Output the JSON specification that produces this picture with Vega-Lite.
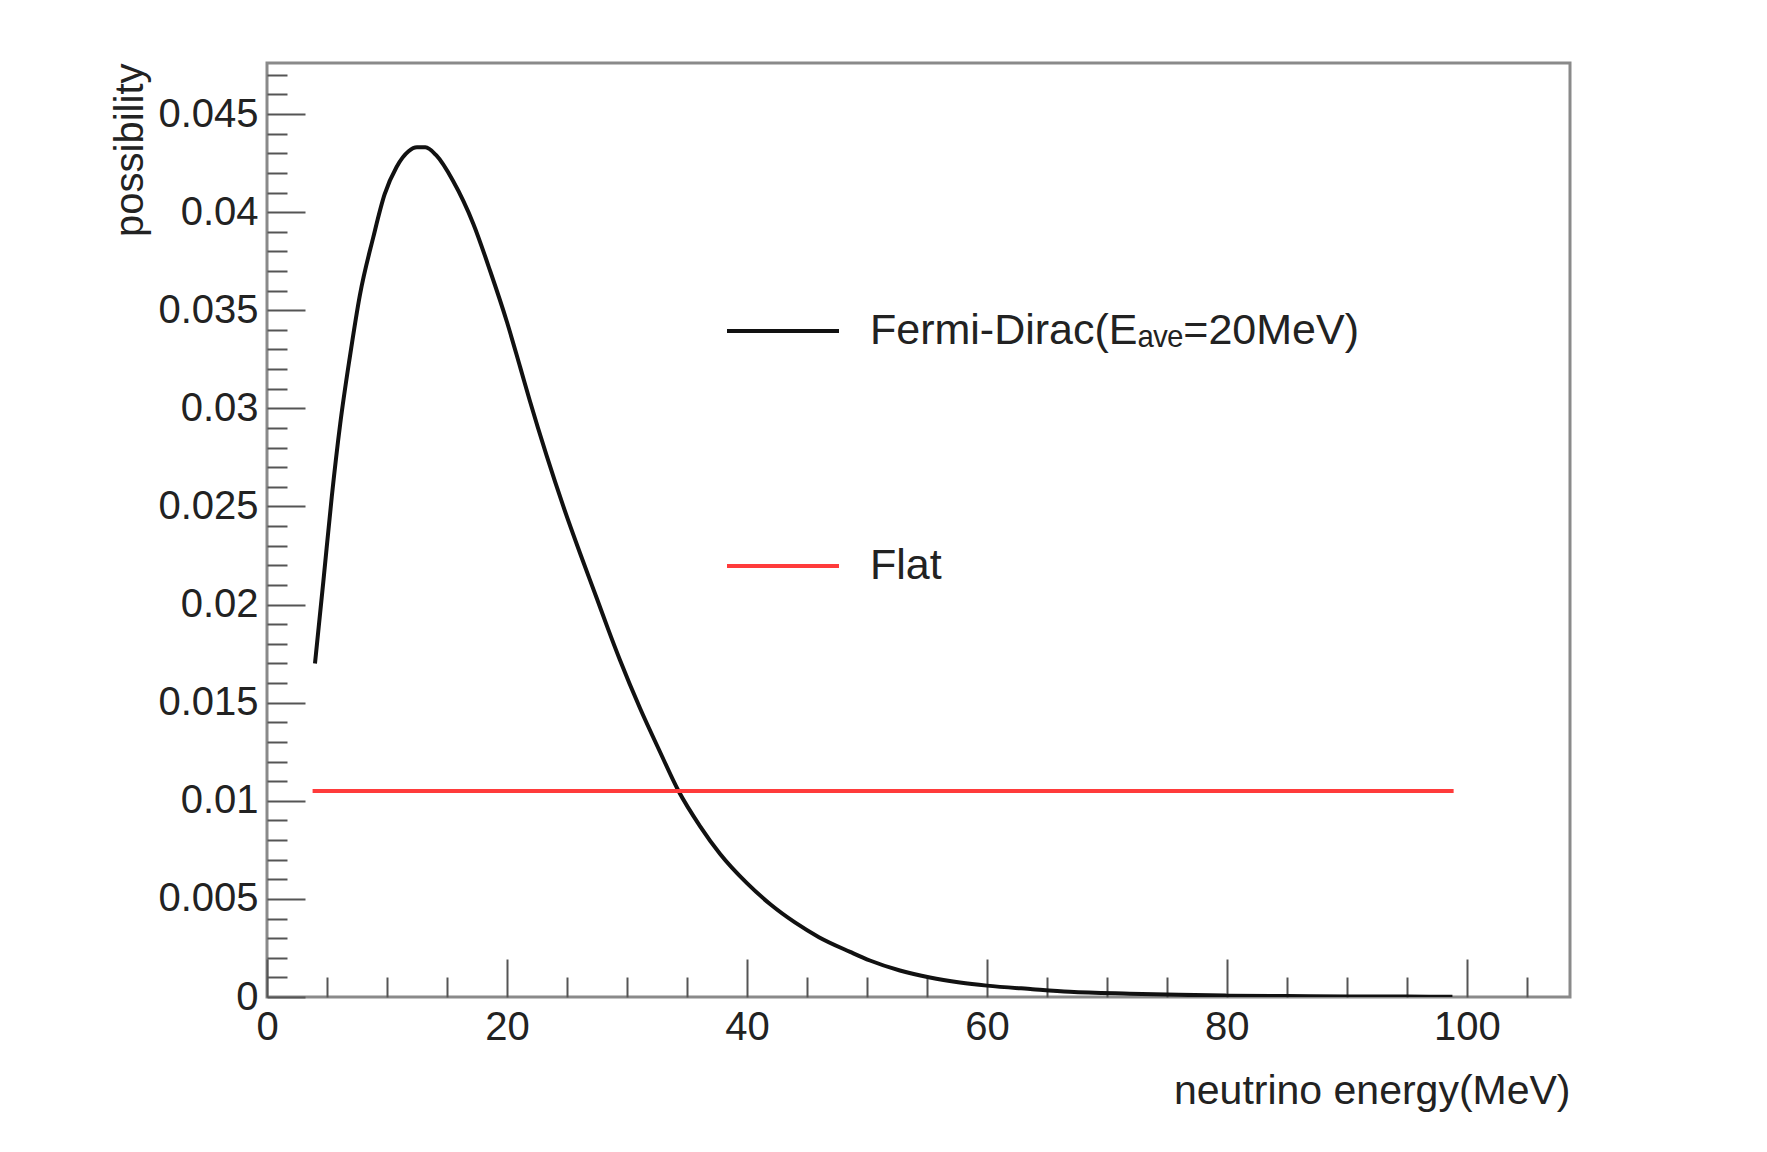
{
  "$schema": "https://vega.github.io/schema/vega-lite/v6.json",
  "width": 1303,
  "height": 934,
  "autosize": {"type": "none"},
  "padding": {"left": 267, "top": 63, "right": 197, "bottom": 155},
  "background": "white",
  "config": {
    "font": "Liberation Sans",
    "view": {"stroke": "#8a8a8a", "strokeWidth": 3},
    "axis": {"grid": false}
  },
  "data": {
    "values": [
      {"series": "Fermi-Dirac(Eₐᵥₑ=20MeV)", "E": 4.0, "p": 0.0170},
      {"series": "Fermi-Dirac(Eₐᵥₑ=20MeV)", "E": 4.7, "p": 0.0212},
      {"series": "Fermi-Dirac(Eₐᵥₑ=20MeV)", "E": 5.4, "p": 0.0255},
      {"series": "Fermi-Dirac(Eₐᵥₑ=20MeV)", "E": 6.1, "p": 0.0292},
      {"series": "Fermi-Dirac(Eₐᵥₑ=20MeV)", "E": 6.9, "p": 0.0326},
      {"series": "Fermi-Dirac(Eₐᵥₑ=20MeV)", "E": 7.75, "p": 0.0358},
      {"series": "Fermi-Dirac(Eₐᵥₑ=20MeV)", "E": 8.85, "p": 0.0387},
      {"series": "Fermi-Dirac(Eₐᵥₑ=20MeV)", "E": 9.8, "p": 0.0409},
      {"series": "Fermi-Dirac(Eₐᵥₑ=20MeV)", "E": 10.8, "p": 0.0423},
      {"series": "Fermi-Dirac(Eₐᵥₑ=20MeV)", "E": 11.8, "p": 0.0431},
      {"series": "Fermi-Dirac(Eₐᵥₑ=20MeV)", "E": 12.5, "p": 0.0433},
      {"series": "Fermi-Dirac(Eₐᵥₑ=20MeV)", "E": 13.2, "p": 0.0433},
      {"series": "Fermi-Dirac(Eₐᵥₑ=20MeV)", "E": 14.1, "p": 0.0429},
      {"series": "Fermi-Dirac(Eₐᵥₑ=20MeV)", "E": 15.5, "p": 0.0416},
      {"series": "Fermi-Dirac(Eₐᵥₑ=20MeV)", "E": 17.2, "p": 0.0394},
      {"series": "Fermi-Dirac(Eₐᵥₑ=20MeV)", "E": 18.6, "p": 0.0370},
      {"series": "Fermi-Dirac(Eₐᵥₑ=20MeV)", "E": 20.0, "p": 0.0344},
      {"series": "Fermi-Dirac(Eₐᵥₑ=20MeV)", "E": 21.1, "p": 0.0321},
      {"series": "Fermi-Dirac(Eₐᵥₑ=20MeV)", "E": 21.9, "p": 0.0304},
      {"series": "Fermi-Dirac(Eₐᵥₑ=20MeV)", "E": 23.3, "p": 0.0276},
      {"series": "Fermi-Dirac(Eₐᵥₑ=20MeV)", "E": 24.7, "p": 0.0250},
      {"series": "Fermi-Dirac(Eₐᵥₑ=20MeV)", "E": 26.1, "p": 0.0226},
      {"series": "Fermi-Dirac(Eₐᵥₑ=20MeV)", "E": 27.5, "p": 0.0203},
      {"series": "Fermi-Dirac(Eₐᵥₑ=20MeV)", "E": 28.4, "p": 0.0188},
      {"series": "Fermi-Dirac(Eₐᵥₑ=20MeV)", "E": 29.4, "p": 0.0172},
      {"series": "Fermi-Dirac(Eₐᵥₑ=20MeV)", "E": 31.1, "p": 0.0147},
      {"series": "Fermi-Dirac(Eₐᵥₑ=20MeV)", "E": 32.75, "p": 0.0125},
      {"series": "Fermi-Dirac(Eₐᵥₑ=20MeV)", "E": 34.3, "p": 0.0105},
      {"series": "Fermi-Dirac(Eₐᵥₑ=20MeV)", "E": 36.1, "p": 0.0087},
      {"series": "Fermi-Dirac(Eₐᵥₑ=20MeV)", "E": 37.75, "p": 0.0073},
      {"series": "Fermi-Dirac(Eₐᵥₑ=20MeV)", "E": 40.0, "p": 0.0058},
      {"series": "Fermi-Dirac(Eₐᵥₑ=20MeV)", "E": 42.0, "p": 0.0047},
      {"series": "Fermi-Dirac(Eₐᵥₑ=20MeV)", "E": 44.0, "p": 0.0038},
      {"series": "Fermi-Dirac(Eₐᵥₑ=20MeV)", "E": 46.0, "p": 0.00305},
      {"series": "Fermi-Dirac(Eₐᵥₑ=20MeV)", "E": 48.6, "p": 0.0023},
      {"series": "Fermi-Dirac(Eₐᵥₑ=20MeV)", "E": 50.25, "p": 0.00186},
      {"series": "Fermi-Dirac(Eₐᵥₑ=20MeV)", "E": 52.75, "p": 0.00135},
      {"series": "Fermi-Dirac(Eₐᵥₑ=20MeV)", "E": 55.25, "p": 0.00099},
      {"series": "Fermi-Dirac(Eₐᵥₑ=20MeV)", "E": 57.75, "p": 0.00074},
      {"series": "Fermi-Dirac(Eₐᵥₑ=20MeV)", "E": 60.0, "p": 0.00058},
      {"series": "Fermi-Dirac(Eₐᵥₑ=20MeV)", "E": 63.8, "p": 0.00040},
      {"series": "Fermi-Dirac(Eₐᵥₑ=20MeV)", "E": 66.9, "p": 0.00027},
      {"series": "Fermi-Dirac(Eₐᵥₑ=20MeV)", "E": 71.9, "p": 0.00017},
      {"series": "Fermi-Dirac(Eₐᵥₑ=20MeV)", "E": 76.0, "p": 0.00011},
      {"series": "Fermi-Dirac(Eₐᵥₑ=20MeV)", "E": 80.0, "p": 0.00007},
      {"series": "Fermi-Dirac(Eₐᵥₑ=20MeV)", "E": 85.0, "p": 0.00005},
      {"series": "Fermi-Dirac(Eₐᵥₑ=20MeV)", "E": 90.0, "p": 0.00003},
      {"series": "Fermi-Dirac(Eₐᵥₑ=20MeV)", "E": 95.0, "p": 0.00002},
      {"series": "Fermi-Dirac(Eₐᵥₑ=20MeV)", "E": 98.8, "p": 0.00001},
      {"series": "Flat", "E": 3.8, "p": 0.0105},
      {"series": "Flat", "E": 98.9, "p": 0.0105}
    ]
  },
  "layer": [
    {
      "mark": {"type": "line", "strokeWidth": 4, "interpolate": "monotone", "clip": true},
      "encoding": {
        "x": {
          "field": "E", "type": "quantitative",
          "scale": {"domain": [0, 108.6], "nice": false, "zero": false},
          "axis": {
            "orient": "bottom", "values": [0, 20, 40, 60, 80, 100],
            "ticks": false, "domain": false, "labelFlush": false, "labelOverlap": false,
            "labelFontSize": 40, "labelColor": "#222", "labelPadding": 10,
            "title": "neutrino energy(MeV)", "titleFontSize": 41, "titleFontWeight": "normal",
            "titleColor": "#222", "titleX": 1303, "titleY": 94, "titleAlign": "right",
            "titleBaseline": "middle", "titleAnchor": null
          }
        },
        "y": {
          "field": "p", "type": "quantitative",
          "scale": {"domain": [0, 0.0476], "nice": false, "zero": false},
          "axis": {
            "orient": "left", "values": [0, 0.005, 0.01, 0.015, 0.02, 0.025, 0.03, 0.035, 0.04, 0.045],
            "format": "~g", "ticks": false, "domain": false, "labelOverlap": false, "labelFlush": false,
            "labelFontSize": 40, "labelColor": "#222", "labelPadding": 9,
            "title": "possibility", "titleFontSize": 40, "titleFontWeight": "normal",
            "titleColor": "#222", "titleAngle": -90, "titleX": -137, "titleY": 0,
            "titleAlign": "right", "titleBaseline": "middle", "titleAnchor": null
          }
        },
        "color": {
          "field": "series", "type": "nominal",
          "scale": {"domain": ["Fermi-Dirac(Eₐᵥₑ=20MeV)", "Flat"], "range": ["#111111", "#ff3b3b"]},
          "legend": {
            "title": null, "orient": "none", "legendX": 458, "legendY": 210,
            "symbolType": "stroke", "symbolSize": 12544, "symbolStrokeWidth": 4,
            "labelFontSize": 43, "labelColor": "#222", "labelFont": "Liberation Sans, DejaVu Sans",
            "labelOffset": 29, "rowPadding": 155, "labelLimit": 800
          }
        }
      }
    },
    {
      "mark": {"type": "point", "opacity": 0},
      "encoding": {
        "x": {
          "field": "E", "type": "quantitative",
          "scale": {"domain": [0, 108.6], "nice": false, "zero": false},
          "axis": {
            "orient": "bottom", "values": [0, 20, 40, 60, 80, 100], "labels": false, "domain": false,
            "tickSize": -38, "tickWidth": 2, "tickColor": "#555", "title": null
          }
        },
        "y": {
          "field": "p", "type": "quantitative",
          "scale": {"domain": [0, 0.0476], "nice": false, "zero": false},
          "axis": {
            "orient": "left", "values": [0, 0.005, 0.01, 0.015, 0.02, 0.025, 0.03, 0.035, 0.04, 0.045],
            "labels": false, "domain": false, "tickSize": -38, "tickWidth": 2, "tickColor": "#555", "title": null
          }
        }
      }
    },
    {
      "mark": {"type": "point", "opacity": 0},
      "encoding": {
        "x": {
          "field": "E", "type": "quantitative",
          "scale": {"domain": [0, 108.6], "nice": false, "zero": false},
          "axis": {
            "orient": "bottom", "values": [5, 10, 15, 25, 30, 35, 45, 50, 55, 65, 70, 75, 85, 90, 95, 105],
            "labels": false, "domain": false, "tickSize": -20, "tickWidth": 2, "tickColor": "#555", "title": null
          }
        },
        "y": {
          "field": "p", "type": "quantitative",
          "scale": {"domain": [0, 0.0476], "nice": false, "zero": false},
          "axis": {
            "orient": "left",
            "values": [0.001, 0.002, 0.003, 0.004, 0.006, 0.007, 0.008, 0.009, 0.011, 0.012, 0.013, 0.014, 0.016, 0.017, 0.018, 0.019, 0.021, 0.022, 0.023, 0.024, 0.026, 0.027, 0.028, 0.029, 0.031, 0.032, 0.033, 0.034, 0.036, 0.037, 0.038, 0.039, 0.041, 0.042, 0.043, 0.044, 0.046, 0.047],
            "labels": false, "domain": false, "tickSize": -20, "tickWidth": 2, "tickColor": "#555", "title": null
          }
        }
      }
    }
  ],
  "resolve": {"axis": {"x": "independent", "y": "independent"}}
}
